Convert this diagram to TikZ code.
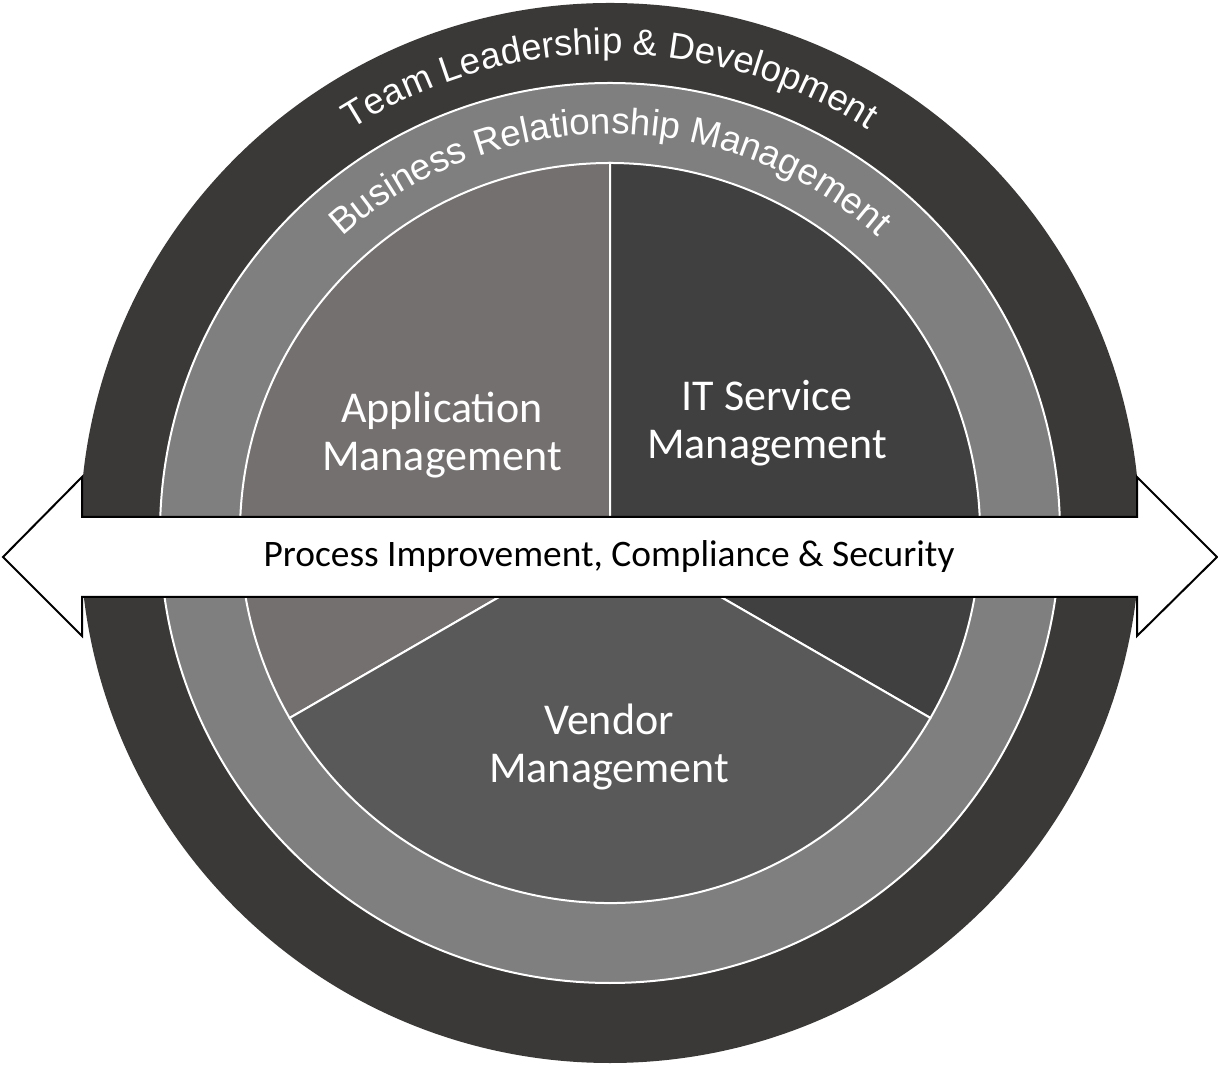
\documentclass[tikz,border=0pt]{standalone}
\usepackage{fontspec}
\setmainfont{Carlito}
\newfontfamily\arcfont{Liberation Sans}
\usetikzlibrary{decorations.text, calc}

\definecolor{outerDark}{RGB}{59,57,55}
\definecolor{ringGray}{RGB}{127,127,127}
\definecolor{appGray}{RGB}{117,112,112}
\definecolor{itGray}{RGB}{64,64,64}
\definecolor{vendorGray}{RGB}{89,89,89}

\begin{document}
\begin{tikzpicture}[
        x=0.5pt, y=0.5pt,
        whiteline/.style={draw=white, line width=1pt},
        sectorlabel/.style={text=white, align=center, font=\fontsize{22}{24}\selectfont},
        arclabel/.style={decorate, decoration={text along path, text align=center, text color=white}},
        band/.style={fill=white, draw=black, line width=1pt}
    ]
        \useasboundingbox[fill=white] (0,0) rectangle (1218,1064);
        \coordinate (c) at (610,531);

        % Rings
        \fill[outerDark] (c) circle[radius=530];
        \filldraw[ringGray, whiteline] (c) circle[radius=450];

        % Sectors
        \filldraw[appGray, whiteline] (c) -- ++(90:370) arc[start angle=90, end angle=210, radius=370] -- cycle;
        \filldraw[itGray, whiteline] (c) -- ++(-30:370) arc[start angle=-30, end angle=90, radius=370] -- cycle;
        \filldraw[vendorGray, whiteline] (c) -- ++(210:370) arc[start angle=210, end angle=330, radius=370] -- cycle;

        % Curved labels
        \path[arclabel, decoration={text={|\arcfont\fontsize{18.3}{18}\selectfont|Team Leadership {\&} Development}}]
            (c) ++(150:479) arc[start angle=150, end angle=30, radius=479];
        \path[arclabel, decoration={text={|\arcfont\fontsize{18.4}{18}\selectfont|Business Relationship Management}}]
            (c) ++(160:399) arc[start angle=160, end angle=20, radius=399];

        % Band
        \filldraw[band] (3,507) -- (82,587) -- (82,547) -- (1137,547) -- (1137,587) -- (1217,507)
            -- (1137,428) -- (1137,467) -- (82,467) -- (82,428) -- cycle;

        % Nodes
        \node[sectorlabel] (appLabel) at (442,629) {Application\\Management};
        \node[sectorlabel] (itLabel) at (767,641) {IT Service\\Management};
        \node[sectorlabel] (vendorLabel) at (609,317) {Vendor\\Management};
        \node[font=\fontsize{18.7}{20}\selectfont] (bandLabel) at (609,507) {Process Improvement, Compliance \& Security};
    \end{tikzpicture}
\end{document}
